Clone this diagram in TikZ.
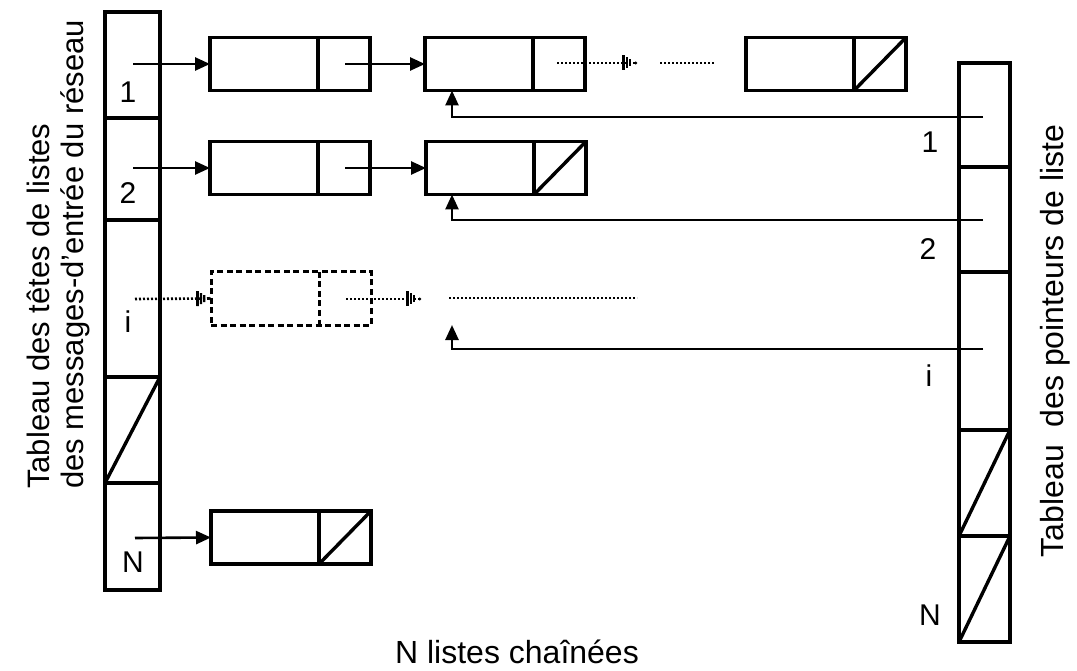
\documentclass[tikz,border=0pt]{standalone}
\usepackage{fontspec}
\setmainfont{Liberation Sans}
\usetikzlibrary{arrows.meta,calc}
\begin{document}
\begin{tikzpicture}[x=1pt,y=-1pt,
  frame/.style={line width=3.4pt},
  tablebox/.style={draw, line width=3.6pt, inner sep=0pt, outer sep=0pt},
  cellbox/.style={draw, line width=3.4pt, minimum width=160pt, minimum height=53pt, inner sep=0pt, outer sep=0pt},
  ghostbox/.style={cellbox, dash pattern=on 6pt off 3.5pt, line width=3pt},
  arr/.style={line width=2.6pt, -{Triangle[length=15pt,width=13pt]}},
  dotline/.style={line width=2.6pt, dash pattern=on 2pt off 2pt},
  dotarr/.style={dotline, -{Bar[width=15pt,line width=2.6pt,sep=1pt]Bar[width=11pt,line width=2.4pt,sep=1pt]Bar[width=7pt,line width=2.2pt,sep=3pt]Circle[length=2.6pt]}},
  lab/.style={font=\fontsize{30}{36}\selectfont, inner sep=0pt},
  title/.style={font=\fontsize{32}{38}\selectfont, inner sep=0pt}
]
\useasboundingbox (0,0) rectangle (1077,671);

% left table
\node[tablebox, minimum width=55pt, minimum height=578pt] (LT) at (132.5,301) {};
\foreach \yy in {118,220,377,483}
  \draw[frame] (LT.west |- 0,\yy) -- (LT.east |- 0,\yy);
\draw[frame] (LT.east |- 0,377) -- (LT.west |- 0,483);

% right table
\node[tablebox, minimum width=51pt, minimum height=579pt] (RT) at (984.5,352.5) {};
\foreach \yy in {167,272,430,536}
  \draw[frame] (RT.west |- 0,\yy) -- (RT.east |- 0,\yy);
\draw[frame] (RT.east |- 0,430) -- (RT.west |- 0,536);
\draw[frame] (RT.east |- 0,536) -- (RT.west |- 0,642);

% list cells
\node[cellbox] (b11) at (290,64) {};
\node[cellbox] (b12) at (505,64) {};
\node[cellbox] (b13) at (826,64) {};
\node[cellbox] (b21) at (290,168) {};
\node[cellbox] (b22) at (506,168) {};
\node[ghostbox] (bi1) at (291,298.5) {};
\node[cellbox] (bN1) at (291,537.5) {};

\foreach \b in {b11,b12,b13,b21,b22,bN1}
  \draw[frame] ($(\b.north west)+(108,0)$) -- ($(\b.south west)+(108,0)$);
\draw[line width=3pt, dash pattern=on 6pt off 3.5pt] ($(bi1.north west)+(108,0)$) -- ($(bi1.south west)+(108,0)$);
\foreach \b in {b13,b22,bN1}
  \draw[frame] ($(\b.south west)+(108,0)$) -- (\b.north east);

% coordinates
\coordinate (l1) at (133,64);
\coordinate (l2) at (133,168);
\coordinate (li) at (135,299);
\coordinate (lN) at (135,538);
\coordinate (p11) at ($(b11.east)+(-25,0)$);
\coordinate (p12) at ($(b12.east)+(-28,-1)$);
\coordinate (p21) at ($(b21.east)+(-25,0)$);
\coordinate (pi1) at ($(bi1.east)+(-25,0.5)$);
\coordinate (e12) at (637,63);
\coordinate (d1a) at (660,63);
\coordinate (d1b) at (715,63);
\coordinate (ei) at (421,299);
\coordinate (dia) at (449,298);
\coordinate (dib) at (637,298);
\coordinate (r1) at (983,117);
\coordinate (r2) at (983,220);
\coordinate (ri) at (983,349);
\coordinate (ti) at (452,325);

% forward links
\draw[arr] (l1) -- (b11.west);
\draw[arr] (p11) -- (b12.west);
\draw[arr] (l2) -- (b21.west);
\draw[arr] (p21) -- (b22.west);
\draw[arr] (lN) -- (bN1.west);
\draw[dotarr] (p12) -- (e12);
\draw[dotline] (d1a) -- (d1b);
\draw[dotarr] (li) -- (bi1.west);
\draw[dotarr] (pi1) -- (ei);
\draw[dotline] (dia) -- (dib);

% back pointers
\draw[arr] (r1) -| ($(b12.south west)+(27,0)$);
\draw[arr] (r2) -| ($(b22.south west)+(26,0)$);
\draw[arr] (ri) -| (ti);

% labels
\node[lab] (n1) at (128,92) {1};
\node[lab] (n2) at (128,193) {2};
\node[lab] (ni) at (128,322) {i};
\node[lab] (nN) at (133,562) {N};
\node[lab] (m1) at (930,142) {1};
\node[lab] (m2) at (928,249) {2};
\node[lab] (mi) at (929,376) {i};
\node[lab] (mN) at (930,615) {N};

\node[title] (bottom) at (517,652) {N listes chaînées};
\node[title, rotate=90] (rtitle) at (1055,341) {Tableau\ \ des pointeurs de liste};
\node[title, rotate=90, anchor=west, font=\fontsize{31}{37}\selectfont] (ltitle1) at (38,489) {Tableau des têtes de listes};
\node[title, rotate=90, anchor=west, font=\fontsize{31}{37}\selectfont] (ltitle2) at (75,489) {des messages-d'entrée du réseau};
\end{tikzpicture}
\end{document}
